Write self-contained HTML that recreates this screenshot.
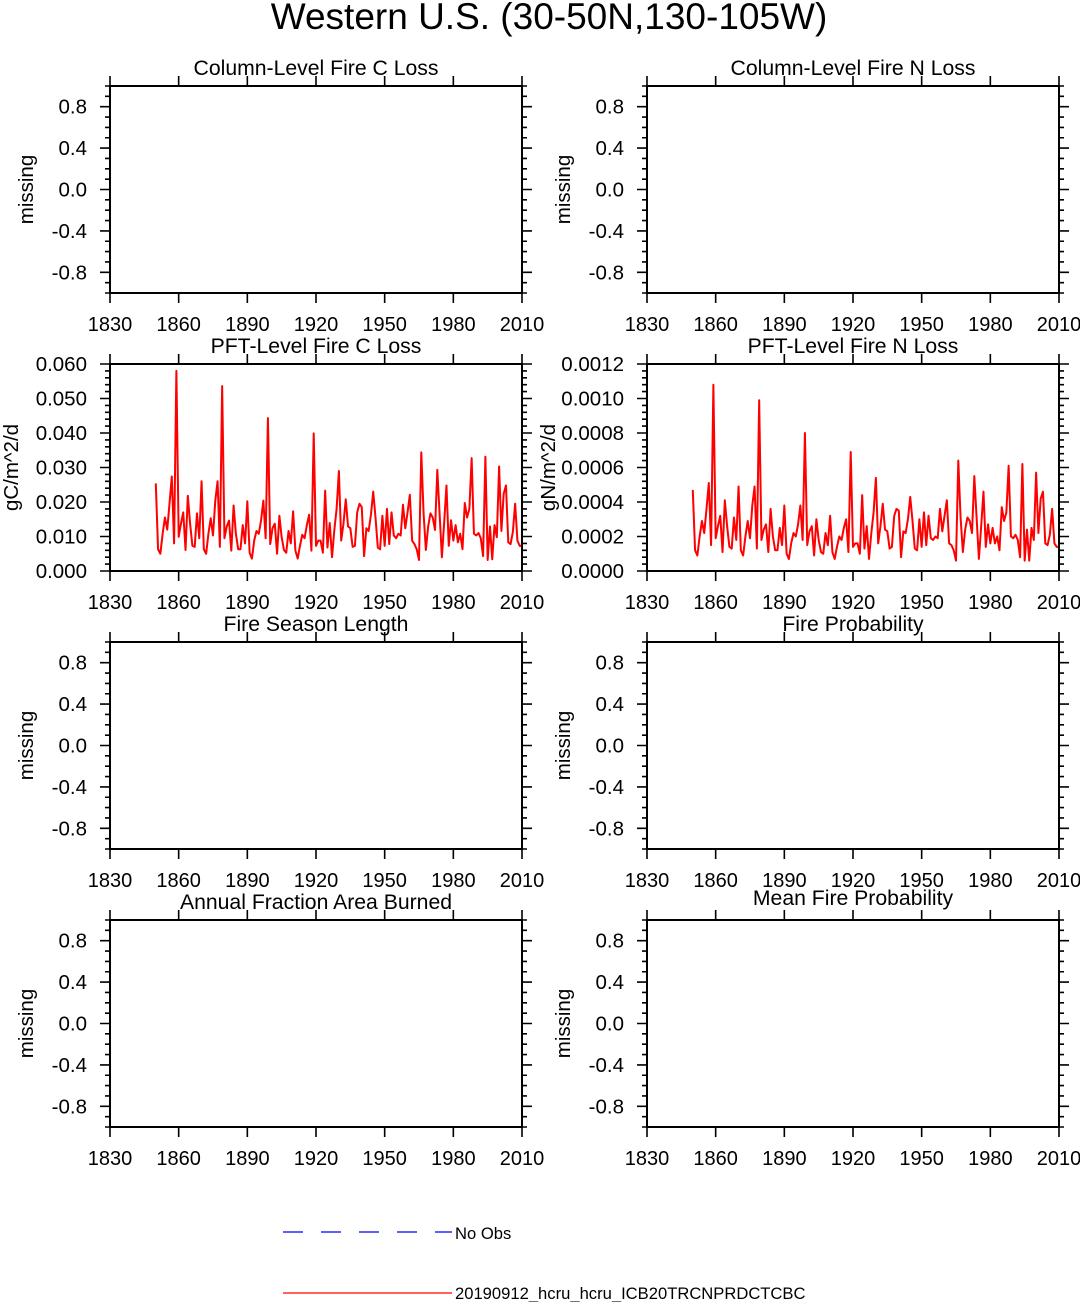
<!DOCTYPE html>
<html><head><meta charset="utf-8">
<style>
html,body{margin:0;padding:0;background:#fff;}
svg text{font-family:"Liberation Sans",Helvetica,Arial,sans-serif;fill:#000;}
</style></head>
<body>
<svg id="chart" xmlns="http://www.w3.org/2000/svg" width="1080" height="1302" viewBox="0 0 1080 1302">
<text x="549" y="29" font-size="37" text-anchor="middle">Western U.S. (30-50N,130-105W)</text>
<g id="panels"></g>
<g>
<line x1="283" y1="1232" x2="452" y2="1232" stroke="#0000ff" stroke-width="1.2" stroke-dasharray="20,18"/>
<text x="455" y="1239" font-size="16.6">No Obs</text>
<line x1="283" y1="1293" x2="452" y2="1293" stroke="#ff0000" stroke-width="1.2"/>
<text x="455" y="1299" font-size="16.6">20190912_hcru_hcru_ICB20TRCNPRDCTCBC</text>
</g>
</svg>
<script>
const years = []; for (let y = 1850; y <= 2010; y++) years.push(y);
// PFT-level fire C loss, units of 0.001 gC/m^2/d
const cLoss = [25.4,6.3,5.0,10.8,15.5,12.0,19.5,27.4,8.0,58.0,
9.9,13.7,17.0,6.1,21.8,13.7,7.3,7.0,16.7,9.5,
26.0,6.3,5.0,10.8,15.3,10.3,20.4,26.0,7.0,53.6,
9.5,12.9,14.6,5.9,19.0,10.8,6.3,6.3,13.3,8.0,
20.2,5.3,3.6,8.8,11.6,10.8,14.7,20.4,9.5,44.3,
7.8,12.4,13.7,5.0,16.0,9.8,6.1,5.3,11.6,8.0,
17.3,5.9,3.6,7.3,10.5,9.5,13.3,16.3,5.9,39.9,
7.3,8.8,8.8,5.3,23.3,6.8,13.9,4.0,11.8,18.0,
29.0,8.8,13.7,20.8,12.9,12.4,7.0,7.3,17.0,19.5,
18.5,4.3,12.4,11.6,16.3,23.0,15.5,6.8,6.3,16.0,
7.3,18.0,7.8,17.0,10.3,9.5,10.8,10.3,19.2,12.4,
17.0,22.1,8.8,7.8,6.3,3.2,34.4,16.7,6.1,12.9,
16.7,15.5,11.9,29.3,16.5,4.0,14.1,24.8,7.3,14.7,
8.8,13.3,8.3,10.8,6.3,19.7,15.5,18.0,32.7,10.8,
10.3,11.0,9.5,4.3,33.1,3.2,12.9,3.4,13.3,9.8,
30.3,11.6,22.4,24.8,8.3,7.8,11.3,19.5,8.8,7.3,7.3];
// PFT-level fire N loss, units of 1e-5 gN/m^2/d
const nLoss = [47,12,9,20,29,22,36,51,15,108,
19,26,32,11,41,26,14,13,31,18,
49,12,9,20,29,19,38,49,13,99,
18,24,27,11,36,20,12,12,25,15,
38,10,7,16,22,20,27,38,18,80,
15,23,26,9,30,18,11,10,22,15,
32,11,7,14,20,18,25,30,11,69,
14,16,16,10,44,13,26,7,22,34,
54,16,26,39,24,23,13,14,32,36,
35,8,23,22,30,43,29,13,12,30,
14,34,15,32,19,18,20,19,36,23,
32,41,16,15,12,6,64,31,11,24,
31,29,22,55,31,7,26,46,14,27,
16,25,16,20,12,37,29,34,61,20,
19,21,18,8,62,6,24,6,25,18,
57,22,42,46,16,15,21,36,16,14,14];
const xTicks = [1830,1860,1890,1920,1950,1980,2010];
const missTicks = ["0.8","0.4","0.0","-0.4","-0.8"];
const cTicks = ["0.000","0.010","0.020","0.030","0.040","0.050","0.060"];
const nTicks = ["0.0000","0.0002","0.0004","0.0006","0.0008","0.0010","0.0012"];

const NS = "http://www.w3.org/2000/svg";
const root = document.getElementById('panels');
function mk(tag, attrs, parent) {
  const e = document.createElementNS(NS, tag);
  for (const k in attrs) e.setAttribute(k, attrs[k]);
  parent.appendChild(e); return e;
}
const W = 412, H = 207;
const panels = [
  {name:'column-fire-c-loss', title:'Column-Level Fire C Loss', x:110, y:86, type:'miss'},
  {name:'column-fire-n-loss', title:'Column-Level Fire N Loss', x:647, y:86, type:'miss'},
  {name:'pft-fire-c-loss', title:'PFT-Level Fire C Loss', x:110, y:364, type:'c'},
  {name:'pft-fire-n-loss', title:'PFT-Level Fire N Loss', x:647, y:364, type:'n'},
  {name:'fire-season-length', title:'Fire Season Length', x:110, y:642, type:'miss'},
  {name:'fire-probability', title:'Fire Probability', x:647, y:642, type:'miss'},
  {name:'annual-fraction-area-burned', title:'Annual Fraction Area Burned', x:110, y:920, type:'miss'},
  {name:'mean-fire-probability', title:'Mean Fire Probability', x:647, y:920, type:'miss', titleDy:-4},
];
panels.forEach(p => {
  const g = mk('g', {}, root);
  
  
  const xs = yr => p.x + (yr - 1830) / 180 * W;
  let ymin, ymax, labels, vals, minorStep, ytitle, series, scale;
  if (p.type === 'miss') { ymin=-1; ymax=1; labels=missTicks; vals=[0.8,0.4,0,-0.4,-0.8]; minorStep=0.1; }
  else if (p.type === 'c') { ymin=0; ymax=0.06; labels=cTicks; vals=cTicks.map(Number); minorStep=0.002; ytitle='gC/m^2/d'; series=cLoss; scale=0.001; }
  else { ymin=0; ymax=0.0012; labels=nTicks; vals=nTicks.map(Number); minorStep=0.00004; ytitle='gN/m^2/d'; series=nLoss; scale=0.00001; }
  const ys = v => p.y + H - (v - ymin) / (ymax - ymin) * H;
  const t = mk('text', {x:p.x + W/2, y:p.y - 11 + (p.titleDy||0), 'font-size':21.2, 'text-anchor':'middle'}, g);
  
  
  t.textContent = p.title;
  if (series) {
    let d = '';
    series.forEach((v, i) => { d += (i ? 'L' : 'M') + xs(years[i]).toFixed(2) + ' ' + ys(v * scale).toFixed(2); });
    const path = mk('path', {d:d, fill:'none', stroke:'#ff0000', 'stroke-width':2, 'stroke-linejoin':'round'}, g);
    
    
  }
  let td = '';
  xTicks.forEach(yr => { const x = xs(yr); td += `M${x} ${p.y}v-10M${x} ${p.y+H}v10`; });
  const nMinor = Math.round((ymax - ymin) / minorStep);
  for (let i = 0; i <= nMinor; i++) {
    const y = ys(ymin + i * minorStep);
    td += `M${p.x} ${y}h-5M${p.x+W} ${y}h5`;
  }
  vals.forEach(v => { const y = ys(v); td += `M${p.x} ${y}h-10M${p.x+W} ${y}h10`; });
  const tk = mk('path', {d:td, stroke:'#000', 'stroke-width':1.6, fill:'none'}, g);
  
  
  const fr = mk('rect', {x:p.x, y:p.y, width:W, height:H, fill:'none', stroke:'#000', 'stroke-width':2}, g);
  
  
  xTicks.forEach(yr => {
    const l = mk('text', {x:xs(yr), y:p.y + H + 38, 'font-size':20, 'text-anchor':'middle'}, g);
    
    
    l.textContent = yr;
  });
  labels.forEach((s, i) => {
    const l = mk('text', {x:p.x - 23, y:ys(vals[i]) + 7, 'font-size':20.5, 'text-anchor':'end'}, g);
    
    
    l.textContent = s;
  });
  const tx = p.type === 'miss' ? p.x - 77 : p.x - 92;
  const yt = mk('text', {x:tx, y:p.y + H/2, 'font-size':20.5, 'text-anchor':'middle', transform:`rotate(-90 ${tx} ${p.y + H/2})`}, g);
  
  
  yt.textContent = ytitle || 'missing';
});
</script>
</body></html>
